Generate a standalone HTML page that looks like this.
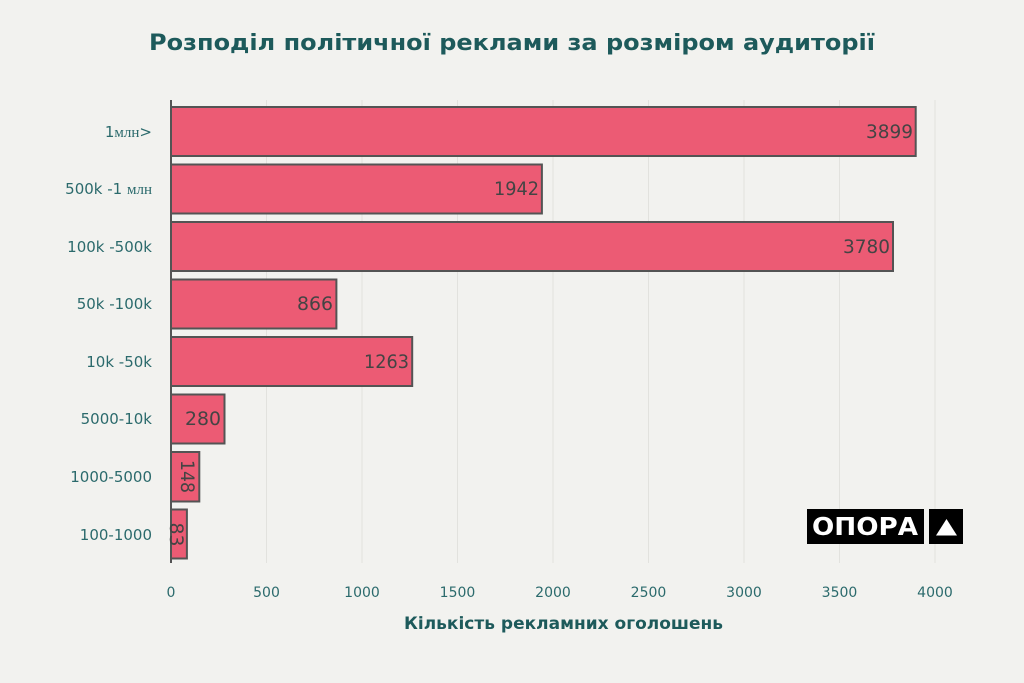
<!DOCTYPE html>
<html><head><meta charset="utf-8">
<style>
html,body{margin:0;padding:0;background:#f2f2ef;}
svg{display:block;}
</style></head>
<body>
<svg width="1024" height="683" viewBox="0 0 1024 683" xmlns="http://www.w3.org/2000/svg">
<rect width="1024" height="683" fill="#f2f2ef"/>
<text x="149" y="50" font-family="DejaVu Sans, Liberation Sans, sans-serif" font-weight="bold" font-size="22.5" fill="#1d5a5b" textLength="726" lengthAdjust="spacingAndGlyphs">Розподіл політичної реклами за розміром аудиторії</text>

<!-- gridlines -->
<g stroke="#e2e2de" stroke-width="1">
<line x1="266.5" y1="100" x2="266.5" y2="563"/>
<line x1="362" y1="100" x2="362" y2="563"/>
<line x1="457.5" y1="100" x2="457.5" y2="563"/>
<line x1="553" y1="100" x2="553" y2="563"/>
<line x1="648.5" y1="100" x2="648.5" y2="563"/>
<line x1="744" y1="100" x2="744" y2="563"/>
<line x1="839.5" y1="100" x2="839.5" y2="563"/>
<line x1="935" y1="100" x2="935" y2="563"/>
</g>

<!-- bars -->
<g fill="#ec5b74" stroke="#545454" stroke-width="2">
<rect x="171" y="107" width="744.7" height="49"/>
<rect x="171" y="164.5" width="370.9" height="49"/>
<rect x="171" y="222" width="722" height="49"/>
<rect x="171" y="279.5" width="165.4" height="49"/>
<rect x="171" y="337" width="241.2" height="49"/>
<rect x="171" y="394.5" width="53.5" height="49"/>
<rect x="171" y="452" width="28.3" height="49.5"/>
<rect x="171" y="509.5" width="15.9" height="49"/>
</g>
<line x1="171" y1="100" x2="171" y2="563" stroke="#545454" stroke-width="2"/>

<!-- value labels -->
<g font-family="DejaVu Sans, Liberation Sans, sans-serif" font-size="19" fill="#444" text-anchor="end">
<text x="913" y="138" textLength="47" lengthAdjust="spacingAndGlyphs">3899</text>
<text x="539" y="195" textLength="45" lengthAdjust="spacingAndGlyphs">1942</text>
<text x="890" y="253" textLength="47" lengthAdjust="spacingAndGlyphs">3780</text>
<text x="333" y="310" textLength="36" lengthAdjust="spacingAndGlyphs">866</text>
<text x="409" y="368" textLength="45" lengthAdjust="spacingAndGlyphs">1263</text>
<text x="221" y="425" textLength="36" lengthAdjust="spacingAndGlyphs">280</text>
</g>
<g font-family="DejaVu Sans, Liberation Sans, sans-serif" font-size="19" fill="#444" text-anchor="middle">
<text transform="translate(181,476.5) rotate(90)" x="0" y="0" textLength="33" lengthAdjust="spacingAndGlyphs">148</text>
<text transform="translate(170,534.5) rotate(90)" x="0" y="0" textLength="24" lengthAdjust="spacingAndGlyphs">83</text>
</g>

<!-- y labels -->
<g font-family="DejaVu Sans, Liberation Sans, sans-serif" font-size="15" fill="#2b6a6c" text-anchor="end">
<text x="152" y="137">1<tspan font-family="Liberation Serif, serif">млн</tspan>&gt;</text>
<text x="152" y="194">500k -1 <tspan font-family="Liberation Serif, serif">млн</tspan></text>
<text x="152" y="252">100k -500k</text>
<text x="152" y="309">50k -100k</text>
<text x="152" y="367">10k -50k</text>
<text x="152" y="424">5000-10k</text>
<text x="152" y="482">1000-5000</text>
<text x="152" y="540">100-1000</text>
</g>

<!-- x ticks -->
<g font-family="DejaVu Sans, Liberation Sans, sans-serif" font-size="14" fill="#2b6a6c" text-anchor="middle">
<text x="171" y="597">0</text>
<text x="266.5" y="597">500</text>
<text x="362" y="597">1000</text>
<text x="457.5" y="597">1500</text>
<text x="553" y="597">2000</text>
<text x="648.5" y="597">2500</text>
<text x="744" y="597">3000</text>
<text x="839.5" y="597">3500</text>
<text x="935" y="597">4000</text>
</g>

<text x="404" y="629" font-family="DejaVu Sans, Liberation Sans, sans-serif" font-weight="bold" font-size="17" fill="#1d5a5b" textLength="319" lengthAdjust="spacingAndGlyphs">Кількість рекламних оголошень</text>

<!-- logo -->
<rect x="807" y="509" width="117" height="35" fill="#000"/>
<text x="812" y="535" font-family="DejaVu Sans, Liberation Sans, sans-serif" font-weight="bold" font-size="25" fill="#fff" textLength="106" lengthAdjust="spacingAndGlyphs">ОПОРА</text>
<rect x="929" y="509" width="34" height="35" fill="#000"/>
<polygon points="946.5,519 936,535.5 957,535.5" fill="#fff"/>
</svg>
</body></html>
